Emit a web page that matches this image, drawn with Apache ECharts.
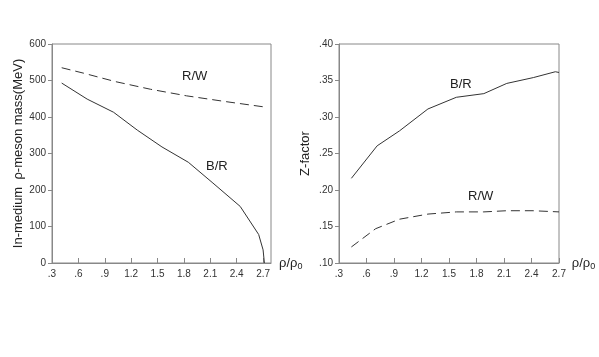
<!DOCTYPE html>
<html>
<head>
<meta charset="utf-8">
<script src="https://cdn.jsdelivr.net/npm/echarts@6/dist/echarts.min.js"></script>
<style>
  html, body { margin: 0; padding: 0; background: #fff; }
  #chart { width: 599px; height: 357px; }
</style>
</head>
<body>
<div id="chart"></div>
<script>
// 左图：介质中 rho 介子质量
const massBR = [[0.41, 493], [0.70, 449], [1.00, 413], [1.27, 364], [1.55, 318], [1.85, 276],
  [2.13, 219], [2.44, 155], [2.65, 78], [2.70, 36], [2.715, 0]];
const massRW = [[0.41, 535], [0.66, 520], [1.02, 497], [1.42, 476], [1.83, 458], [2.28, 442], [2.70, 428]];
// 右图：Z-factor
const zBR = [[0.435, 0.216], [0.716, 0.2605], [0.96, 0.281], [1.27, 0.311], [1.58, 0.327], [1.88, 0.332],
  [2.13, 0.346], [2.42, 0.354], [2.66, 0.362], [2.70, 0.361]];
const zRW = [[0.435, 0.122], [0.70, 0.147], [0.96, 0.160], [1.27, 0.167], [1.58, 0.170], [1.88, 0.170],
  [2.13, 0.1716], [2.42, 0.1716], [2.70, 0.170]];

const fontFamily = 'Liberation Sans, Arial, sans-serif';
const axisColor = '#888';
const lineColor = '#333';

const chart = echarts.init(document.getElementById('chart'));

function trimZero(v, d) {
  return v.toFixed(d).replace(/^0/, '');
}

const rhoName = {
  name: '{a|ρ/ρ}{b|0}',
  nameLocation: 'end',
  nameGap: 8,
  nameTextStyle: {
    rich: {
      a: { fontSize: 13, color: '#222', fontFamily },
      b: { fontSize: 9, color: '#222', fontFamily, padding: [8, 0, 0, 0] }
    }
  }
};

function xAxisCfg(gridIndex, max) {
  return Object.assign({
    type: 'value',
    gridIndex,
    min: 0.3,
    max,
    interval: 0.3,
    axisLine: { lineStyle: { color: axisColor } },
    axisTick: { inside: true, length: 5, lineStyle: { color: axisColor } },
    axisLabel: {
      color: '#333', fontSize: 10, fontFamily, margin: 6,
      showMaxLabel: max === 2.7,
      formatter: v => trimZero(v, 1)
    },
    splitLine: { show: false }
  }, rhoName);
}

const option = {
  animation: false,
  grid: [
    { left: 52, top: 44, width: 219, height: 219, show: true, borderColor: axisColor, borderWidth: 1 },
    { left: 339, top: 44, width: 220, height: 219, show: true, borderColor: axisColor, borderWidth: 1 }
  ],
  xAxis: [xAxisCfg(0, 2.79), xAxisCfg(1, 2.7)],
  yAxis: [
    {
      type: 'value', gridIndex: 0, min: 0, max: 600, interval: 100,
      name: 'In-medium  ρ-meson mass(MeV)',
      nameLocation: 'middle', nameGap: 26,
      nameTextStyle: { fontSize: 13, color: '#222', fontFamily },
      axisLine: { show: true, lineStyle: { color: axisColor } },
      axisTick: { show: true, length: 4, lineStyle: { color: axisColor } },
      axisLabel: { color: '#333', fontSize: 10, fontFamily, margin: 6 },
      splitLine: { show: false }
    },
    {
      type: 'value', gridIndex: 1, min: 0.1, max: 0.4, interval: 0.05,
      name: 'Z-factor',
      nameLocation: 'middle', nameGap: 27,
      nameTextStyle: { fontSize: 13, color: '#222', fontFamily },
      axisLine: { show: true, lineStyle: { color: axisColor } },
      axisTick: { show: true, length: 4, lineStyle: { color: axisColor } },
      axisLabel: { color: '#333', fontSize: 10, fontFamily, margin: 6, formatter: v => trimZero(v, 2) },
      splitLine: { show: false }
    }
  ],
  graphic: [
    { type: 'text', left: 182, top: 70, style: { text: 'R/W', fontSize: 13, fontFamily, fill: '#222' } },
    { type: 'text', left: 206, top: 160, style: { text: 'B/R', fontSize: 13, fontFamily, fill: '#222' } },
    { type: 'text', left: 450, top: 78, style: { text: 'B/R', fontSize: 13, fontFamily, fill: '#222' } },
    { type: 'text', left: 468, top: 190, style: { text: 'R/W', fontSize: 13, fontFamily, fill: '#222' } }
  ],
  series: [
    { type: 'line', xAxisIndex: 0, yAxisIndex: 0, data: massBR, showSymbol: false,
      lineStyle: { color: lineColor, width: 1 } },
    { type: 'line', xAxisIndex: 0, yAxisIndex: 0, data: massRW, showSymbol: false,
      lineStyle: { color: lineColor, width: 1, type: [9, 5] } },
    { type: 'line', xAxisIndex: 1, yAxisIndex: 1, data: zBR, showSymbol: false,
      lineStyle: { color: lineColor, width: 1 } },
    { type: 'line', xAxisIndex: 1, yAxisIndex: 1, data: zRW, showSymbol: false,
      lineStyle: { color: lineColor, width: 1, type: [9, 5] } }
  ]
};

chart.setOption(option);
</script>
</body>
</html>
